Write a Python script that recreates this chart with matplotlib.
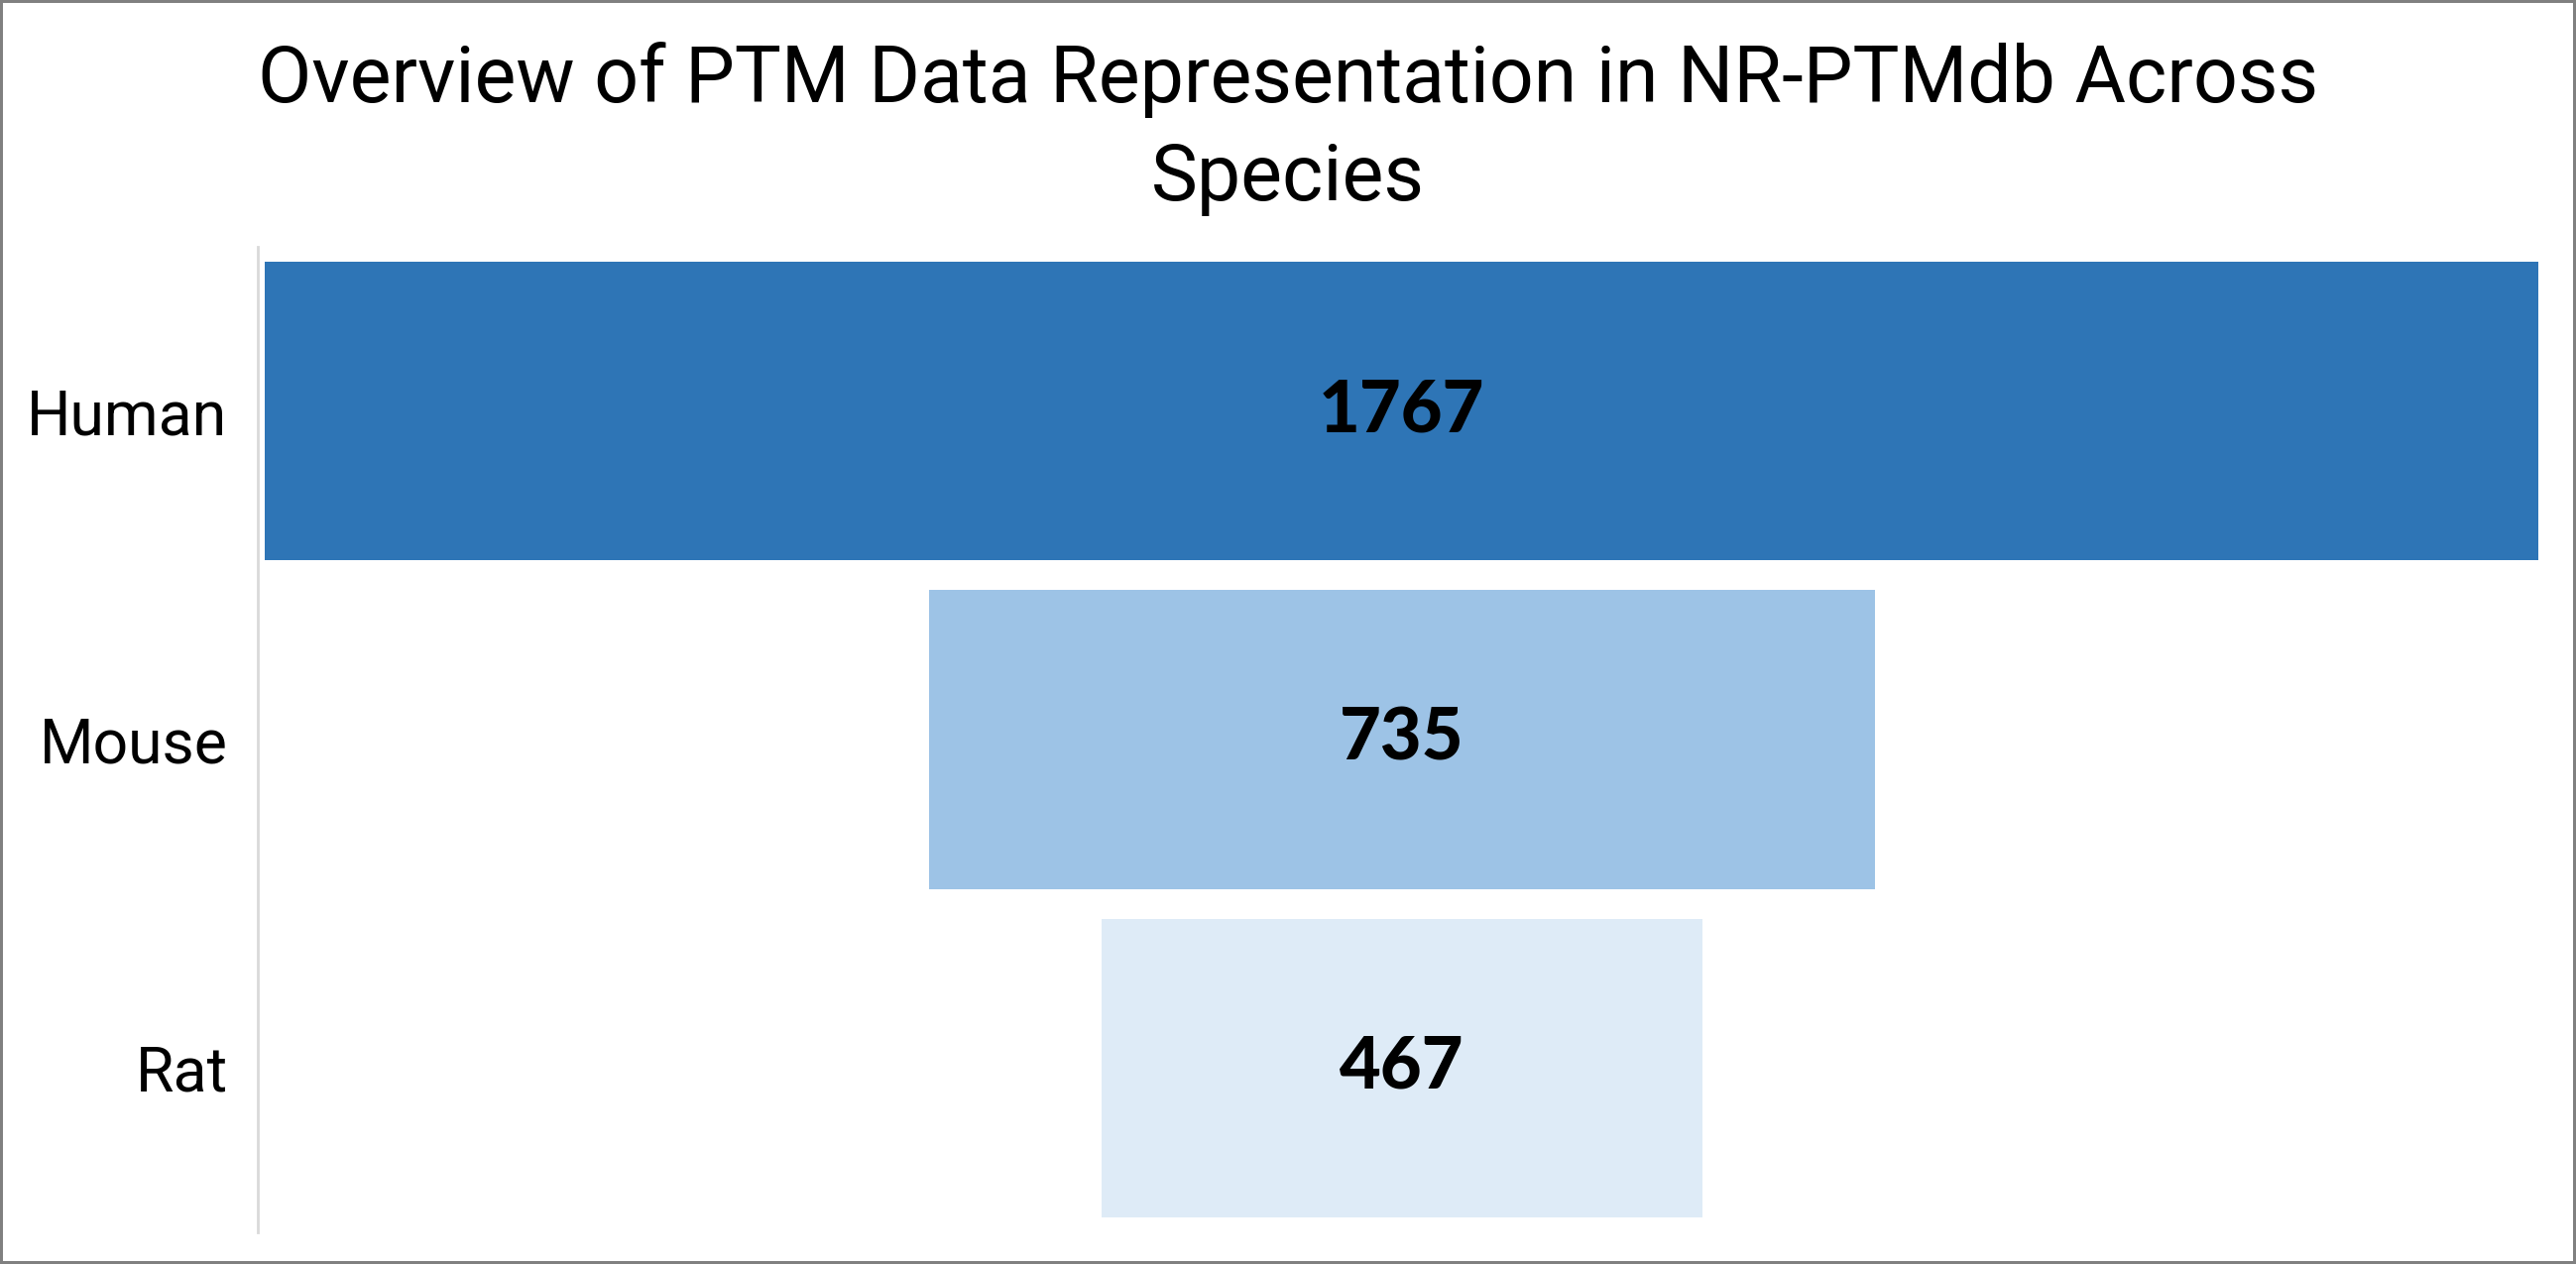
import matplotlib.pyplot as plt
from matplotlib.patches import Rectangle

# data
species = ["Human", "Mouse", "Rat"]
counts = [1767, 735, 467]
colors = ["#2E75B6", "#9DC3E6", "#DEEBF7"]

fig = plt.figure(figsize=(25.98, 12.75), dpi=100)
ax = fig.add_axes([0.1001, 0.0251, 0.8891, 0.7796])

# funnel: bars centred on zero
lefts = [-c / 2 for c in counts]
ax.barh(species, counts, left=lefts, height=0.91, color=colors)

for i, c in enumerate(counts):
    ax.text(0, i, str(c), ha="center", va="center", fontsize=52,
            fontweight=900, family="Lato", color="black")

ax.set_xlim(-889, 891)
ax.set_ylim(2.5, -0.5)
ax.set_xticks([])
ax.tick_params(axis="y", length=0, pad=22, labelsize=45)
for lab in ax.get_yticklabels():
    lab.set_family("Roboto")

for s in ["top", "right", "bottom"]:
    ax.spines[s].set_visible(False)
ax.spines["left"].set_color("#D9D9D9")
ax.spines["left"].set_linewidth(2)

fig.text(0.5, 1 - 103 / 1275, "Overview of PTM Data Representation in NR-PTMdb Across",
         ha="center", va="baseline", fontsize=56.8, family="Roboto")
fig.text(0.5, 1 - 202 / 1275, "Species",
         ha="center", va="baseline", fontsize=56.8, family="Roboto")

# outer border
fig.patches.append(Rectangle((0, 0), 1, 1, transform=fig.transFigure,
                             fill=False, edgecolor="#808080", linewidth=4.3))

plt.savefig("out.png", dpi=100)
